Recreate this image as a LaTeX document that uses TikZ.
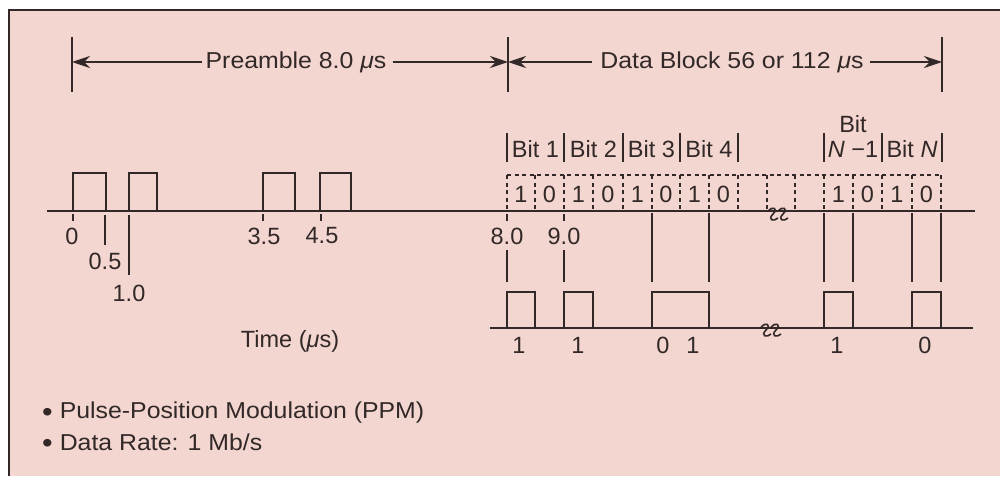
\documentclass[tikz,border=0pt]{standalone}
\usepackage{fontspec}
\setmainfont{Liberation Sans}
\newfontfamily\widesf[FakeStretch=1.08]{Liberation Sans}
\usetikzlibrary{arrows.meta,positioning}
\definecolor{ink}{RGB}{50,40,40}
\definecolor{paper}{RGB}{242,214,207}
\tikzset{
  wave/.style={line width=2.6pt,color=ink},
  cell/.style={line width=2pt,color=ink,dash pattern=on 4pt off 3.5pt},
  link/.style={line width=2pt,color=ink},
  dim/.style={line width=2pt,color=ink,-{Stealth[length=18pt,width=12pt]}},
  txt/.style={font=\fontsize{23.5}{28}\selectfont,text=ink,inner sep=0pt},
  widetxt/.style={font=\widesf\fontsize{23}{28}\selectfont,text=ink,inner sep=0pt},
  brk/.pic={\foreach \d in {-5,5} \draw[line width=1.6pt,ink] (\d-5,-3) .. controls (\d-1,-8) and (\d+6,-6) .. (\d,0) .. controls (\d-6,6) and (\d+1,8) .. (\d+5,4);}
}
\newcommand{\dotb}{\raisebox{-2.5pt}{\fontsize{28}{28}\selectfont•}\hspace{7pt}}
\begin{document}
\begin{tikzpicture}[x=1pt,y=-1pt]
     \useasboundingbox (0,0) rectangle (1000,476);
     \fill[white] (0,0) rectangle (1000,476);
     \fill[paper] (9,10) rectangle (1000,476);
     \draw[line width=2pt,ink] (9,476) -- (9,10) -- (1000,10);
     \foreach \x in {72,508,942} \draw[link] (\x,37) -- (\x,92);
     \coordinate (ta) at (72,62);
     \coordinate (tb) at (508,62);
     \coordinate (tc) at (942,62);
     \node[widetxt] (pre) at (296,62) {Preamble 8.0 {\itshape μ}s};
     \node[widetxt] (blk) at (732,62) {Data Block 56 or 112 {\itshape μ}s};
     \draw[dim] ([xshift=-3pt]pre.west) -- (ta);
     \draw[dim] ([xshift=6pt]pre.east) -- (tb);
     \draw[dim] ([xshift=-8pt]blk.west) -- (tb);
     \draw[dim] ([xshift=6pt]blk.east) -- (tc);
     \draw[wave] (47,211) -- (975,211);
     \foreach \a/\b in {73/106,129/157,263/295,320/351} \draw[wave] (\a,211) |- (\b,173) -- (\b,211);
     \pic at (778,214) {brk};
     \foreach \x in {73,263,321,507,564} \draw[link,line width=1.5pt] (\x,214) -- (\x,221);
     \foreach \x/\t [count=\i] in {72/0,264/3.5,322/4.5,507/8.0,564/9.0} \node[txt] (tk\i) at (\x,236) {\t};
     \draw[link] (105,215) -- (105,245) node[txt,below=7pt] (half) {0.5};
     \draw[link] (129,215) -- (129,275) node[txt,below=9pt] (one) {1.0};
     \draw[cell] (507,175) -- (941,175);
     \foreach \x in {507,535,564,593,623,652,680,709,738,767,795,824,853,882,912,941} \draw[cell] (\x,175) -- (\x,211);
     \foreach \x/\d [count=\i] in {521/1,549.5/0,578.5/1,608/0,637.5/1,666/0,694.5/1,723.5/0,838.5/1,867.5/0,897/1,926.5/0} \node[txt] (c\i) at (\x,194) {\d};
     \foreach \x in {507,564,623,680,738,824,882,942} \draw[link] (\x,133) -- (\x,162);
     \node[txt] (b1) at (535.5,149) {Bit 1};
     \node[txt] (b2) at (593.5,149) {Bit 2};
     \node[txt] (b3) at (651.5,149) {Bit 3};
     \node[txt] (b4) at (709,149) {Bit 4};
     \node[txt] (bn1) at (853,149) {{\itshape N} −1};
     \node[txt,above=8pt of bn1] (bitw) {Bit};
     \node[txt] (bn) at (912,149) {Bit {\itshape N}};
     \foreach \x in {652,709,824,853,912,941} \draw[link] (\x,213) -- (\x,282);
     \foreach \x in {507,564} \draw[link] (\x,250) -- (\x,282);
     \draw[wave] (490,328) -- (973,328);
     \foreach \a/\b in {507/535,564/593,652/709,824/853,912/941} \draw[wave] (\a,328) |- (\b,292) -- (\b,328);
     \pic at (771,330) {brk};
     \foreach \x/\d [count=\i] in {519/1,578/1,663/0,693/1,837/1,925/0} \node[txt] (v\i) at (\x,345) {\d};
     \node[txt] (time) at (290,341) {Time ({\itshape μ}s)};
     \node[widetxt,anchor=west] (ppm) at (42,413) {\dotb Pulse-Position Modulation (PPM)};
     \node[widetxt,anchor=west] (rate) at (42,443) {\dotb Data Rate: 1 Mb/s};
   \end{tikzpicture}
\end{document}
